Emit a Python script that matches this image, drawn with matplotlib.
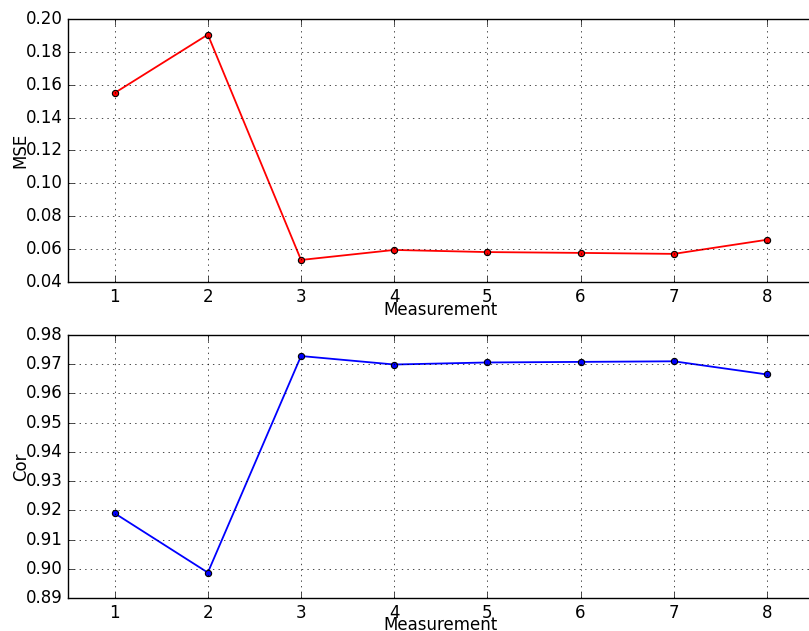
import matplotlib
matplotlib.use("Agg")
import matplotlib.pyplot as plt
from matplotlib.ticker import FormatStrFormatter, MultipleLocator

plt.style.use("classic")

measurements = [1, 2, 3, 4, 5, 6, 7, 8]
mse = [0.1550, 0.1905, 0.0534, 0.0595, 0.0582, 0.0577, 0.0571, 0.0657]
cor = [0.9190, 0.8987, 0.9728, 0.9699, 0.9706, 0.9708, 0.9710, 0.9665]

fig = plt.figure(figsize=(8.09, 6.31), dpi=100, facecolor="white")
ax1 = fig.add_axes([0.0841, 0.5531, 0.9216, 0.4168])
ax2 = fig.add_axes([0.0841, 0.0523, 0.9216, 0.4168])

ax1.plot(measurements, mse, color="red", marker="o", markersize=4.5,
         markerfacecolor="red", markeredgecolor="black", markeredgewidth=0.8,
         linewidth=1.3)
ax1.set_xlim(0.5, 8.5)
ax1.set_ylim(0.04, 0.20)
ax1.yaxis.set_major_locator(MultipleLocator(0.02))
ax1.set_xlabel("Measurement", labelpad=-3)
ax1.set_ylabel("MSE")

ax2.plot(measurements, cor, color="blue", marker="o", markersize=4.5,
         markerfacecolor="blue", markeredgecolor="black", markeredgewidth=0.8,
         linewidth=1.3)
ax2.set_xlim(0.5, 8.5)
ax2.set_ylim(0.89, 0.98)
ax2.yaxis.set_major_locator(MultipleLocator(0.01))
ax2.set_xlabel("Measurement", labelpad=-4)
ax2.set_ylabel("Cor")

for ax in (ax1, ax2):
    ax.set_xticks(measurements)
    ax.grid(True)
    ax.yaxis.labelpad = -3
    ax.yaxis.set_major_formatter(FormatStrFormatter("%.2f"))

fig.savefig("out.png", dpi=100, facecolor="white")
